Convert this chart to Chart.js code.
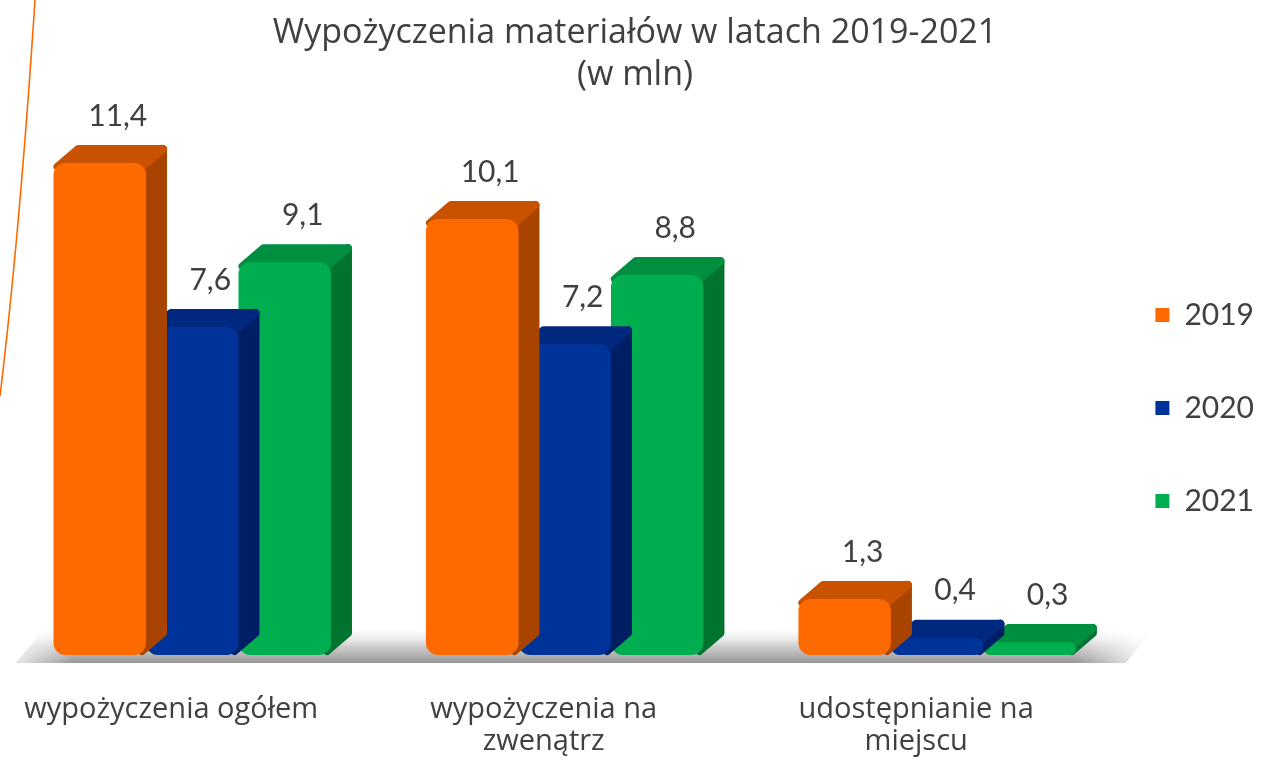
<!DOCTYPE html>
<html>
<head>
<meta charset="utf-8">
<script src="https://cdn.jsdelivr.net/npm/chart.js@4"></script>
<style>
  html, body { margin: 0; padding: 0; background: #ffffff; }
  #wrap { width: 1264px; height: 761px; position: relative; }
</style>
</head>
<body>
<div id="wrap"><canvas id="c" width="1264" height="761"></canvas></div>
<script>
// ---- data ----
const categories = [["wypożyczenia ogółem"], ["wypożyczenia na", "zwenątrz"], ["udostępnianie na", "miejscu"]];
const seriesNames = ["2019", "2020", "2021"];
const values2019 = [11.4, 10.1, 1.3];
const values2020 = [7.6, 7.2, 0.4];
const values2021 = [9.1, 8.8, 0.3];
const titleLines = ["Wypożyczenia materiałów w latach 2019-2021", "(w mln)"];

// ---- styles ----
const frontColors = ["#FF6A00", "#003399", "#00AE50"];
const topColors   = ["#C85200", "#00287E", "#008E40"];
const sideColors  = ["#A84400", "#001E63", "#00732F"];
const DEPTH_X = 21, DEPTH_Y = -18;
const TEXT = "#404040";
const NUM_FONT = "Lato, 'Open Sans', sans-serif";
const TXT_FONT = "'Open Sans', Lato, sans-serif";

const fmt = v => v.toFixed(1).replace(".", ",");

function facePath(ctx, pts) {
  ctx.beginPath();
  ctx.moveTo(pts[0][0], pts[0][1]);
  for (let i = 1; i < pts.length; i++) ctx.lineTo(pts[i][0], pts[i][1]);
  ctx.closePath();
}

const decorPlugin = {
  id: "decor",
  beforeDraw(chart) {
    const ctx = chart.ctx;
    ctx.save();
    ctx.strokeStyle = "#FF6A00";
    ctx.lineWidth = 1.6;
    ctx.beginPath();
    ctx.moveTo(35, 0);
    ctx.quadraticCurveTo(20, 230, 0, 396);
    ctx.stroke();
    ctx.restore();
  },
  beforeDatasetsDraw(chart) {
    // floor shadow
    const ctx = chart.ctx, a = chart.chartArea;
    const base = chart.scales.y.getPixelForValue(0);
    ctx.save();
    const g = ctx.createLinearGradient(0, base + DEPTH_Y - 6, 0, base + 8);
    g.addColorStop(0, "rgba(235,235,235,0.2)");
    g.addColorStop(0.5, "rgba(190,190,190,0.8)");
    g.addColorStop(1, "rgba(150,150,150,1)");
    ctx.fillStyle = g;
    facePath(ctx, [
      [a.left + 10, base + 8],
      [a.right + 2, base + 8],
      [a.right + DEPTH_X + 6, base + DEPTH_Y - 6],
      [a.left + DEPTH_X + 16, base + DEPTH_Y - 6]
    ]);
    ctx.fill();
    const h = ctx.createLinearGradient(a.left, 0, a.right + DEPTH_X, 0);
    h.addColorStop(0, "rgba(255,255,255,0.9)");
    h.addColorStop(0.06, "rgba(255,255,255,0)");
    h.addColorStop(0.94, "rgba(255,255,255,0)");
    h.addColorStop(1, "rgba(255,255,255,0.9)");
    ctx.fillStyle = h;
    ctx.fill();
    ctx.restore();
  },
  beforeDatasetDraw(chart, args) {
    const ctx = chart.ctx;
    const di = args.index;
    const meta = args.meta;
    ctx.save();
    ctx.lineJoin = "round";
    ctx.lineWidth = 8;
    meta.data.forEach(el => {
      const p = el.getProps(["x", "y", "base", "width"], true);
      const l = p.x - p.width / 2 + 4, r = p.x + p.width / 2 - 4;
      const top = p.y + 4, bot = p.base - 4;
      // side face
      ctx.fillStyle = sideColors[di];
      ctx.strokeStyle = sideColors[di];
      facePath(ctx, [[r, top], [r + DEPTH_X, top + DEPTH_Y], [r + DEPTH_X, bot + DEPTH_Y], [r, bot]]);
      ctx.fill(); ctx.stroke();
      // top face
      ctx.fillStyle = topColors[di];
      ctx.strokeStyle = topColors[di];
      facePath(ctx, [[l, top], [r, top], [r + DEPTH_X, top + DEPTH_Y], [l + DEPTH_X, top + DEPTH_Y]]);
      ctx.fill(); ctx.stroke();
    });
    ctx.restore();
  },
  afterDatasetsDraw(chart) {
    const ctx = chart.ctx;
    ctx.save();
    ctx.fillStyle = TEXT;
    ctx.font = "30px " + NUM_FONT;
    ctx.textAlign = "center";
    ctx.textBaseline = "middle";
    chart.data.datasets.forEach((ds, di) => {
      const meta = chart.getDatasetMeta(di);
      meta.data.forEach((el, i) => {
        const p = el.getProps(["x", "y"], true);
        ctx.fillText(fmt(ds.data[i]), p.x + 18, p.y - 47);
      });
    });
    ctx.restore();
  }
};

const seriesValues = [values2019, values2020, values2021];

new Chart(document.getElementById("c"), {
  type: "bar",
  data: {
    labels: categories,
    datasets: seriesNames.map((name, i) => ({
      label: name,
      data: seriesValues[i],
      backgroundColor: frontColors[i],
      borderWidth: 0,
      borderRadius: 12,
      borderSkipped: false,
      barPercentage: 1.0,
      categoryPercentage: 0.745
    }))
  },
  options: {
    responsive: false,
    animation: false,
    devicePixelRatio: 1,
    layout: { padding: { left: 6, right: 0, top: 0, bottom: 0 } },
    scales: {
      x: {
        grid: { display: false, drawTicks: false },
        border: { display: false },
        ticks: {
          color: TEXT,
          font: { family: TXT_FONT, size: 29, lineHeight: 1.1 },
          padding: 39,
          labelOffset: -21,
          maxRotation: 0,
          autoSkip: false
        },
        afterFit(scale) { scale.height = 106; }
      },
      y: {
        display: false,
        min: 0,
        max: 12
      }
    },
    plugins: {
      title: {
        display: true,
        text: titleLines,
        color: TEXT,
        font: { family: TXT_FONT, size: 34, weight: "normal", lineHeight: 1.235 },
        padding: { top: 12, bottom: 41 }
      },
      legend: {
        position: "right",
        title: { display: true, text: "", font: { size: 12, lineHeight: 1.2 }, padding: { top: 71.6, bottom: 0 } },
        labels: {
          color: TEXT,
          boxWidth: 14,
          boxHeight: 14,
          padding: 32,
          font: { family: NUM_FONT, size: 30, lineHeight: 2.0333 },
          generateLabels(chart) {
            return Chart.defaults.plugins.legend.labels.generateLabels(chart).map(l => Object.assign({}, l, { text: [l.text], lineWidth: 0 }));
          }
        }
      },
      tooltip: { enabled: false }
    }
  },
  plugins: [decorPlugin]
});
</script>
</body>
</html>
